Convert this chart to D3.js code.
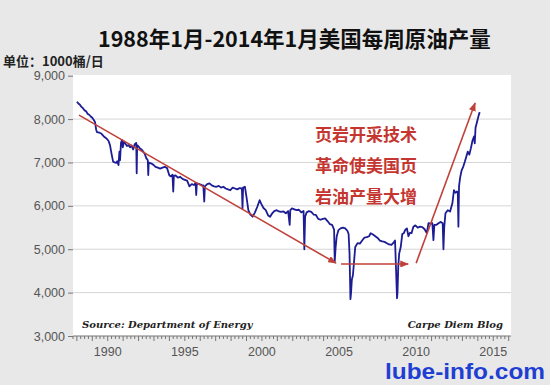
<!DOCTYPE html>
<html>
<head>
<meta charset="utf-8">
<script src="https://cdn.jsdelivr.net/npm/d3@7"></script>
<style>
  body { margin: 0; background: #e8e8e8; }
  svg { display: block; }
</style>
</head>
<body>
<svg id="chart" width="550" height="385"></svg>
<script>
// weekly US crude production, thousand barrels/day
const production = [
  [1988.00, 8400], [1988.10, 8360], [1988.20, 8330], [1988.30, 8280], [1988.40, 8250],
  [1988.50, 8200], [1988.60, 8180], [1988.70, 8120], [1988.80, 8100], [1988.90, 8060],
  [1989.00, 8030], [1989.10, 7980], [1989.18, 7930], [1989.25, 7760], [1989.30, 7700],
  [1989.45, 7690], [1989.60, 7660], [1989.75, 7600], [1989.90, 7560], [1990.05, 7500],
  [1990.15, 7400], [1990.25, 7200], [1990.35, 7020], [1990.45, 7000], [1990.55, 6990],
  [1990.62, 7030], [1990.70, 6940], [1990.76, 7250], [1990.80, 7050], [1990.86, 7450],
  [1990.92, 7520], [1990.98, 7350], [1991.05, 7480], [1991.15, 7430], [1991.25, 7380],
  [1991.35, 7400], [1991.45, 7350], [1991.55, 7390], [1991.65, 7300], [1991.75, 7420],
  [1991.85, 7450], [1991.88, 6750], [1991.91, 7400], [1992.00, 7370], [1992.10, 7320],
  [1992.20, 7300], [1992.30, 7250], [1992.40, 7200], [1992.50, 7100], [1992.60, 7050],
  [1992.63, 6710], [1992.66, 7000], [1992.80, 6980], [1992.95, 6950], [1993.10, 6900],
  [1993.25, 6880], [1993.40, 6860], [1993.55, 6880], [1993.70, 6900], [1993.85, 6870],
  [1994.00, 6700], [1994.10, 6680], [1994.20, 6720], [1994.25, 6330], [1994.29, 6690],
  [1994.40, 6700], [1994.55, 6650], [1994.70, 6670], [1994.85, 6620], [1995.00, 6600],
  [1995.15, 6580], [1995.30, 6450], [1995.45, 6500], [1995.60, 6480], [1995.70, 6530],
  [1995.74, 6250], [1995.78, 6520], [1995.95, 6500], [1996.10, 6480], [1996.20, 6470],
  [1996.26, 6100], [1996.30, 6450], [1996.45, 6500], [1996.60, 6520], [1996.75, 6470],
  [1996.90, 6450], [1997.05, 6440], [1997.20, 6460], [1997.35, 6420], [1997.50, 6440],
  [1997.65, 6400], [1997.80, 6380], [1997.95, 6360], [1998.10, 6420], [1998.25, 6400],
  [1998.40, 6380], [1998.55, 6410], [1998.70, 6400], [1998.74, 5940], [1998.78, 6420],
  [1998.90, 6440], [1999.00, 6200], [1999.12, 5900], [1999.25, 5800], [1999.40, 5750],
  [1999.55, 5850], [1999.70, 5980], [1999.85, 6130], [1999.95, 6050], [2000.10, 5950],
  [2000.25, 5900], [2000.40, 5780], [2000.53, 5750], [2000.65, 5820], [2000.80, 5880],
  [2000.96, 5900], [2001.10, 5870], [2001.25, 5860], [2001.40, 5870], [2001.55, 5830],
  [2001.70, 5880], [2001.80, 5560], [2001.84, 5900], [2001.95, 5940], [2002.10, 5920],
  [2002.25, 5900], [2002.40, 5910], [2002.55, 5850], [2002.70, 5880], [2002.75, 5000],
  [2002.80, 5750], [2002.90, 5850], [2003.05, 5880], [2003.20, 5860], [2003.35, 5800],
  [2003.50, 5790], [2003.65, 5700], [2003.80, 5680], [2003.95, 5700], [2004.10, 5710],
  [2004.25, 5650], [2004.40, 5580], [2004.55, 5560], [2004.68, 5450], [2004.72, 4720],
  [2004.78, 5050], [2004.85, 5300], [2004.96, 5440], [2005.10, 5480], [2005.25, 5500],
  [2005.40, 5480], [2005.55, 5420], [2005.62, 5350], [2005.68, 4900], [2005.74, 3850],
  [2005.78, 4000], [2005.83, 4300], [2005.90, 4400], [2005.97, 4700], [2006.05, 5050],
  [2006.20, 5140], [2006.35, 5130], [2006.50, 5200], [2006.65, 5270], [2006.80, 5280],
  [2006.95, 5300], [2007.05, 5370], [2007.20, 5340], [2007.35, 5300], [2007.50, 5260],
  [2007.65, 5200], [2007.80, 5180], [2007.95, 5170], [2008.10, 5140], [2008.25, 5110],
  [2008.40, 5100], [2008.55, 5160], [2008.63, 5200], [2008.68, 4700], [2008.76, 3870],
  [2008.79, 4000], [2008.84, 4600], [2008.90, 4900], [2009.00, 5050], [2009.10, 5350],
  [2009.20, 5370], [2009.30, 5450], [2009.40, 5480], [2009.50, 5300], [2009.60, 5380],
  [2009.70, 5370], [2009.82, 5520], [2009.95, 5550], [2010.10, 5500], [2010.25, 5520],
  [2010.40, 5510], [2010.55, 5460], [2010.69, 5370], [2010.80, 5600], [2010.95, 5590],
  [2011.05, 5600], [2011.12, 5210], [2011.18, 5560], [2011.30, 5560], [2011.45, 5600],
  [2011.60, 5630], [2011.72, 5600], [2011.77, 5000], [2011.82, 5500], [2011.90, 5830],
  [2012.05, 5900], [2012.20, 5870], [2012.35, 6060], [2012.45, 6360], [2012.55, 6300],
  [2012.65, 6330], [2012.70, 6300], [2012.74, 5520], [2012.78, 6450], [2012.85, 6650],
  [2012.95, 6820], [2013.05, 6900], [2013.15, 7010], [2013.25, 7130], [2013.35, 7250],
  [2013.45, 7180], [2013.55, 7330], [2013.65, 7500], [2013.75, 7600], [2013.80, 7440],
  [2013.85, 7800], [2013.95, 7940], [2014.05, 8080], [2014.12, 8160]
];

// hand-drawn trend arrows: [startYear, startValue, endYear, endValue]
const trendArrows = [
  [1988.14, 8090, 2004.80, 4680],
  [2005.13, 4660, 2009.48, 4660],
  [2010.00, 4680, 2013.82, 8370]
];

const yTicks = [3000, 4000, 5000, 6000, 7000, 8000, 9000];
const xLabels = [1990, 1995, 2000, 2005, 2010, 2015];
const noteLines = ['页岩开采技术', '革命使美国页', '岩油产量大增'];

const svg = d3.select('#chart');
const plotLeft = 73, plotRight = 511, plotTop = 75.7, plotBottom = 336;

const x = d3.scaleLinear().domain([1987.75, 2016.15]).range([plotLeft, plotRight]);
const y = d3.scaleLinear().domain([3000, 9000]).range([plotBottom, plotTop]);

// title + unit
svg.append('text')
  .attr('x', 98).attr('y', 47)
  .style('font-family', '"Noto Sans CJK SC", sans-serif')
  .style('font-weight', 'bold').style('font-size', '21.5px')
  .attr('fill', '#111')
  .text('1988年1月-2014年1月美国每周原油产量');

svg.append('text')
  .attr('x', 3).attr('y', 66)
  .style('font-family', '"Noto Sans CJK SC", sans-serif')
  .style('font-weight', 'bold').style('font-size', '13px')
  .attr('fill', '#222')
  .text('单位：1000桶/日');

// plot background
svg.append('rect')
  .attr('x', plotLeft).attr('y', 75)
  .attr('width', plotRight - plotLeft).attr('height', plotBottom - 75)
  .attr('fill', '#fff');

// gridlines
svg.append('g')
  .selectAll('line')
  .data(yTicks.filter(d => d > 3000 && d < 9000))
  .enter().append('line')
  .attr('x1', plotLeft).attr('x2', plotRight)
  .attr('y1', d => y(d)).attr('y2', d => y(d))
  .attr('stroke', '#d6d6d6').attr('stroke-width', 1);

// y axis
const yAxis = svg.append('g')
  .attr('transform', 'translate(' + plotLeft + ',0)')
  .call(d3.axisLeft(y).tickValues(yTicks).tickSize(5).tickPadding(3).tickFormat(d3.format(',')));
yAxis.select('.domain').remove();
yAxis.selectAll('line').attr('stroke', '#777');
yAxis.selectAll('text')
  .attr('fill', '#555')
  .style('font-family', '"Liberation Sans", Arial, sans-serif')
  .style('font-size', '12.5px');

// x axis: quarterly minor ticks, yearly a bit longer
const quarters = d3.range(0, 28.5 * 4).map(i => 1987.75 + i * 0.25).filter(d => d <= 2016.15);
const xAxis = svg.append('g')
  .attr('transform', 'translate(0,' + plotBottom + ')');
xAxis.append('line')
  .attr('x1', plotLeft).attr('x2', plotRight)
  .attr('stroke', '#777');
xAxis.selectAll('line.tick')
  .data(quarters)
  .enter().append('line')
  .attr('class', 'tick')
  .attr('x1', d => x(d)).attr('x2', d => x(d))
  .attr('y1', 0)
  .attr('y2', d => Math.abs(d - Math.round(d)) < 0.01 ? 5 : 3)
  .attr('stroke', '#777');
xAxis.selectAll('text')
  .data(xLabels)
  .enter().append('text')
  .attr('x', d => x(d)).attr('y', 20)
  .attr('text-anchor', 'middle')
  .attr('fill', '#555')
  .style('font-family', '"Liberation Sans", Arial, sans-serif')
  .style('font-size', '12.5px')
  .text(d => d);

// production line
svg.append('path')
  .datum(production)
  .attr('fill', 'none')
  .attr('stroke', '#1c1c94')
  .attr('stroke-width', 1.8)
  .attr('stroke-linejoin', 'round')
  .attr('d', d3.line().x(d => x(d[0])).y(d => y(d[1])));

// arrows
svg.append('defs').append('marker')
  .attr('id', 'head')
  .attr('viewBox', '0 0 10 8')
  .attr('refX', 9).attr('refY', 4)
  .attr('markerWidth', 9).attr('markerHeight', 7)
  .attr('markerUnits', 'userSpaceOnUse')
  .attr('orient', 'auto')
  .append('path')
  .attr('d', 'M0,0 L10,4 L0,8 Z')
  .attr('fill', '#bf4139');

svg.append('g')
  .selectAll('line')
  .data(trendArrows)
  .enter().append('line')
  .attr('x1', d => x(d[0])).attr('y1', d => y(d[1]))
  .attr('x2', d => x(d[2])).attr('y2', d => y(d[3]))
  .attr('stroke', '#bf4139')
  .attr('stroke-width', 1.6)
  .attr('marker-end', 'url(#head)');

// annotation
svg.append('g')
  .selectAll('text')
  .data(noteLines)
  .enter().append('text')
  .attr('x', 315)
  .attr('y', (d, i) => 141 + i * 31)
  .attr('fill', '#c4362f')
  .style('font-family', '"Noto Sans CJK SC", sans-serif')
  .style('font-weight', 'bold').style('font-size', '17px')
  .text(d => d);

// source / blog credits
svg.append('text')
  .attr('x', 82).attr('y', 328)
  .style('font-family', '"DejaVu Serif", serif')
  .style('font-weight', 'bold').style('font-style', 'italic').style('font-size', '10px')
  .attr('fill', '#222')
  .text('Source: Department of Energy');

svg.append('text')
  .attr('x', 503).attr('y', 328)
  .attr('text-anchor', 'end')
  .style('font-family', '"DejaVu Serif", serif')
  .style('font-weight', 'bold').style('font-style', 'italic').style('font-size', '10px')
  .attr('fill', '#222')
  .text('Carpe Diem Blog');

// watermark
svg.append('text')
  .attr('x', 385).attr('y', 379)
  .attr('textLength', 160).attr('lengthAdjust', 'spacingAndGlyphs')
  .style('font-family', '"Liberation Sans", Arial, sans-serif')
  .style('font-weight', 'bold').style('font-size', '22px')
  .attr('fill', '#1f3fd2')
  .text('lube-info.com');
</script>
</body>
</html>
